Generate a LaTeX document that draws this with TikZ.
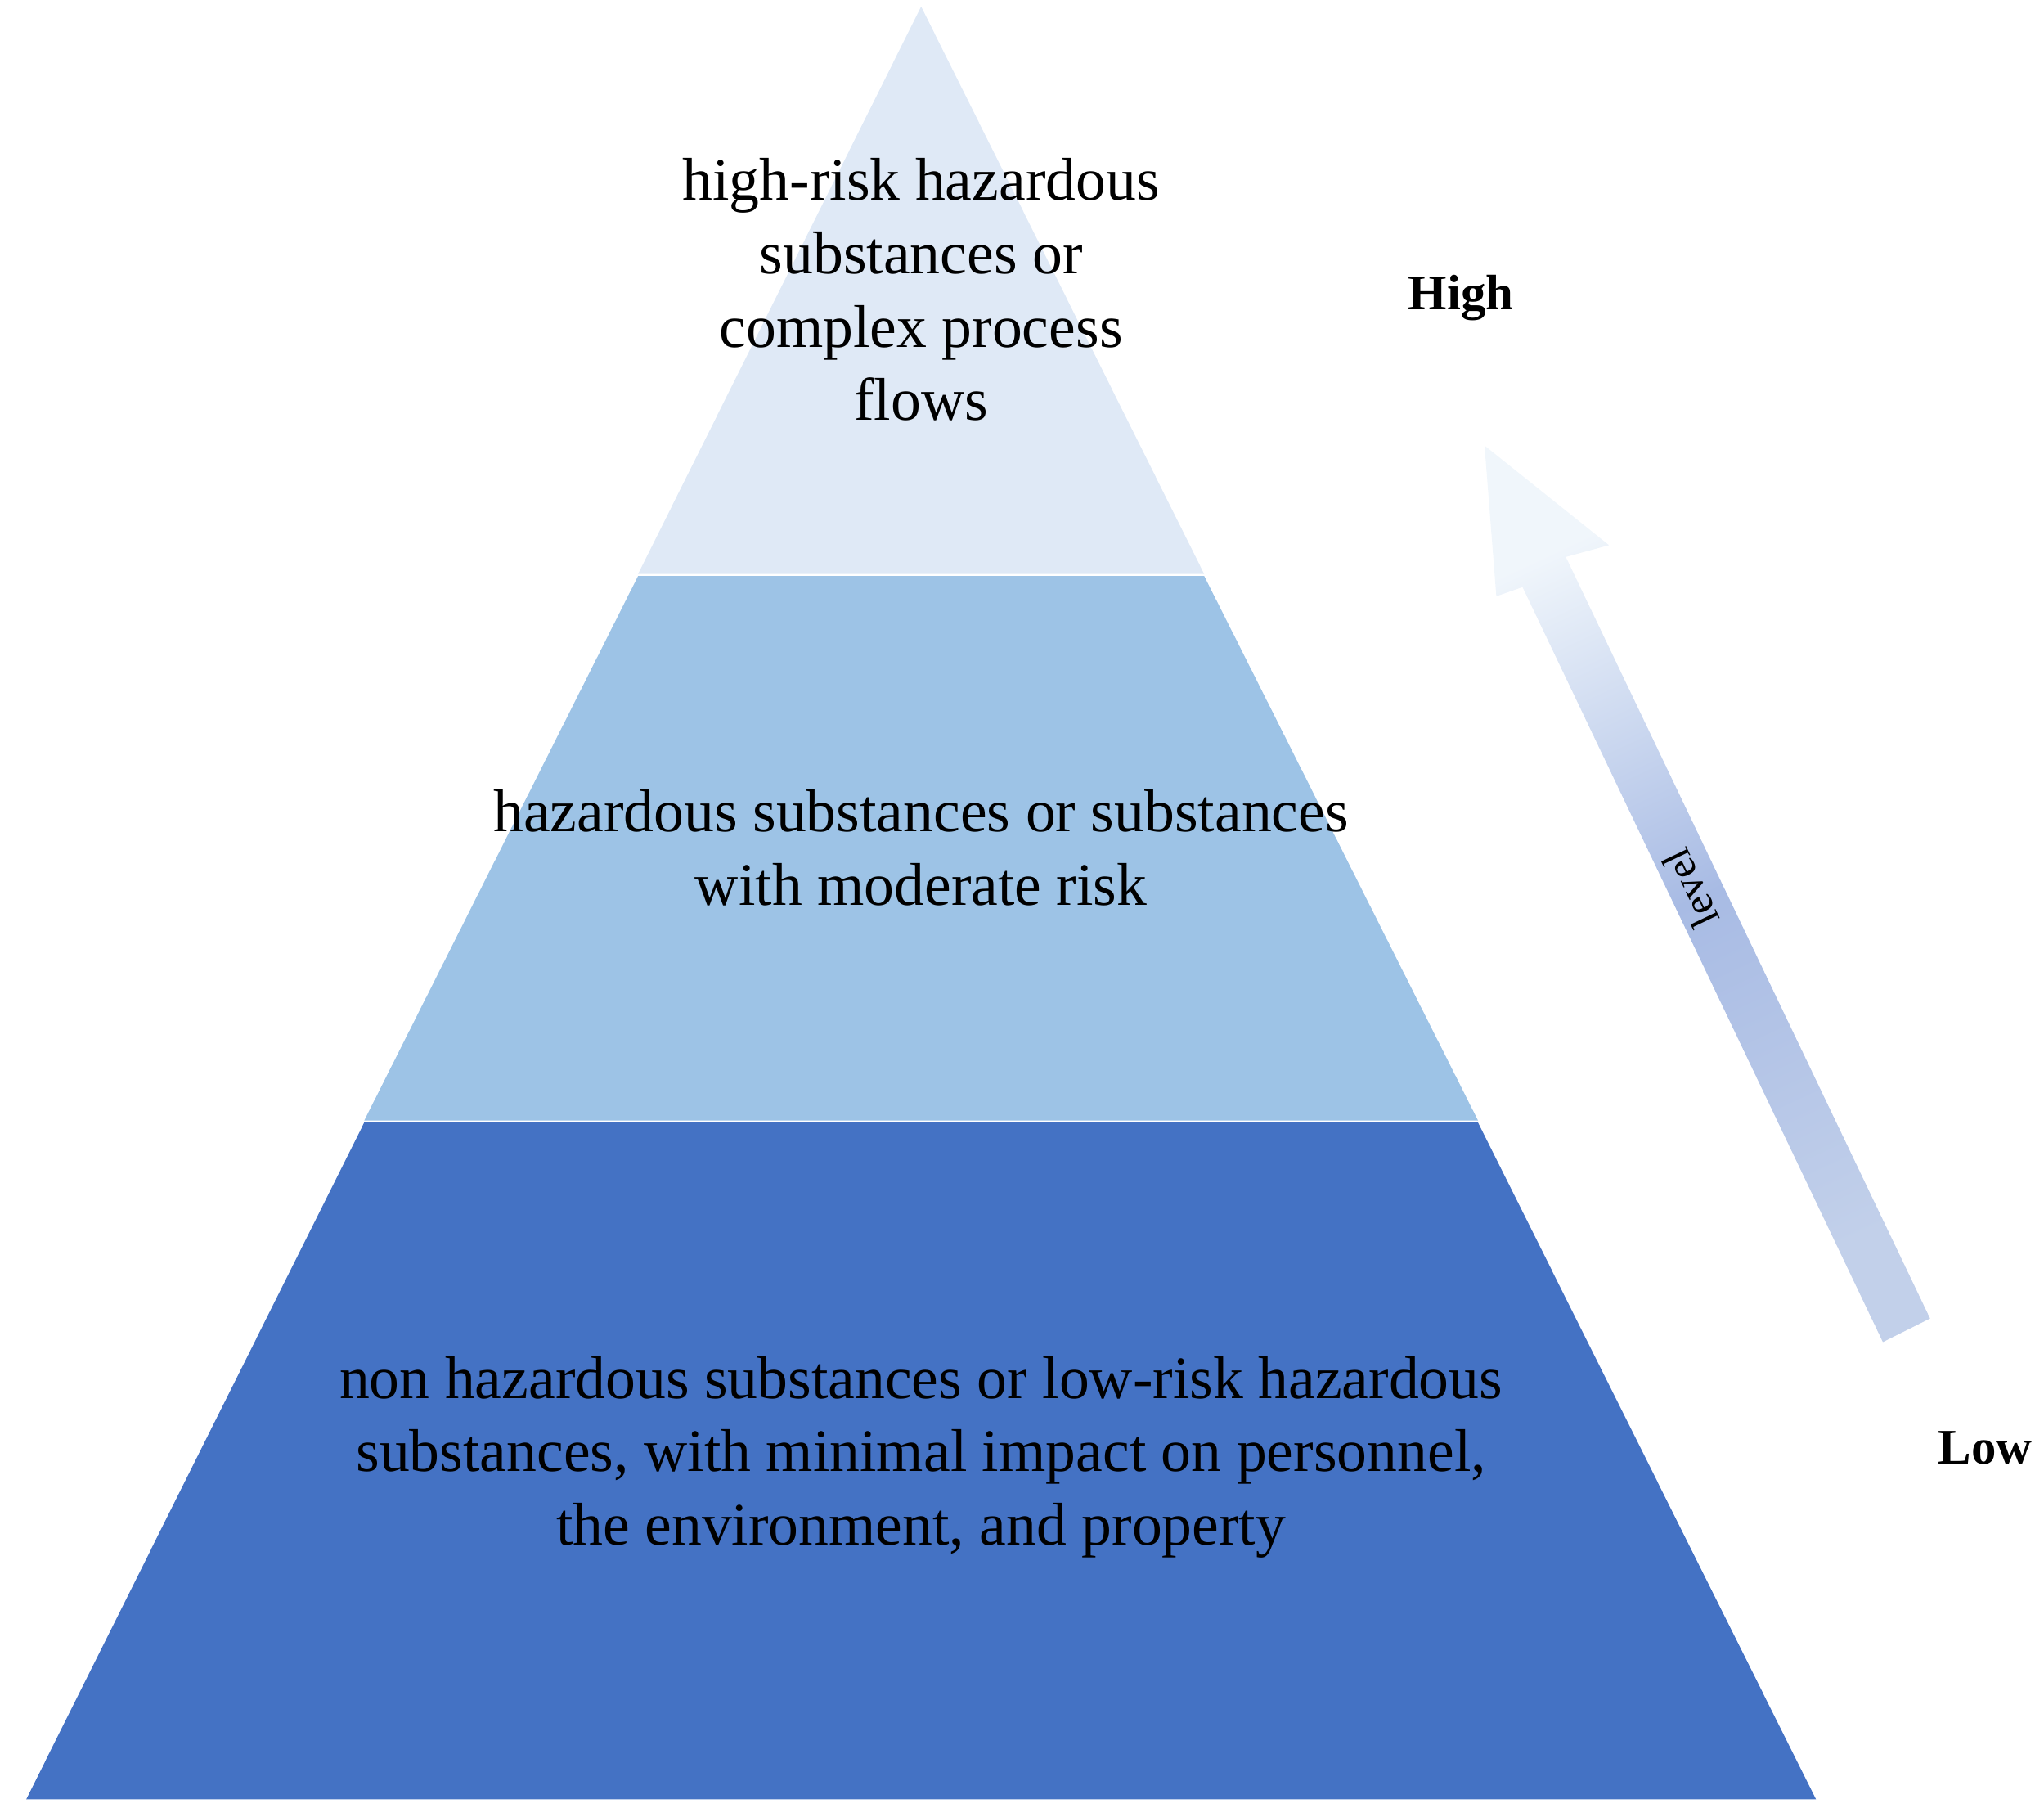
\documentclass[tikz,border=0pt]{standalone}
\usepackage{fontspec}
\setmainfont{Liberation Serif}
\begin{document}
\begin{tikzpicture}[x=1pt,y=-1pt,
  lab/.style={align=center,font=\fontsize{46}{56}\selectfont},
  side/.style={font=\fontsize{38}{44}\selectfont\bfseries}]
\useasboundingbox (0,0) rectangle (1560,1386);
\definecolor{ctop}{HTML}{DFE9F6}
\definecolor{cmid}{HTML}{9DC3E6}
\definecolor{cbot}{HTML}{4472C4}
\fill[ctop] (703,5) -- (919,438) -- (487,438) -- cycle;
\fill[cmid] (487,439.5) -- (919,439.5) -- (1128,855) -- (278,855) -- cycle;
\fill[cbot] (278,856.5) -- (1128,856.5) -- (1386,1373) -- (20,1373) -- cycle;
\node[lab] (t1) at (703,221) {high-risk hazardous\\substances or\\complex process\\flows};
\node[lab] (t2) at (703,647) {hazardous substances or substances\\with moderate risk};
\node[lab] (t3) at (703,1112) {non hazardous substances or low-risk hazardous\\substances, with minimal impact on personnel,\\the environment, and property};
\node[side] (hi) at (1115,227) {High};
\node[side] (lo) at (1515,1105) {Low};
\shade[top color=white!85!cmid, bottom color={rgb,255:red,194;green,208;blue,234}, middle color={rgb,255:red,168;green,187;blue,228}, shading angle=25]
  (1473,1006) -- (1195,425) -- (1228,416) -- (1133,340) -- (1142,455) -- (1162,448) -- (1437,1024) -- cycle;
\node[font=\fontsize{32}{36}\selectfont, rotate=115.5, inner sep=0pt] (lv) at (1290,678) {level};
\end{tikzpicture}
\end{document}
